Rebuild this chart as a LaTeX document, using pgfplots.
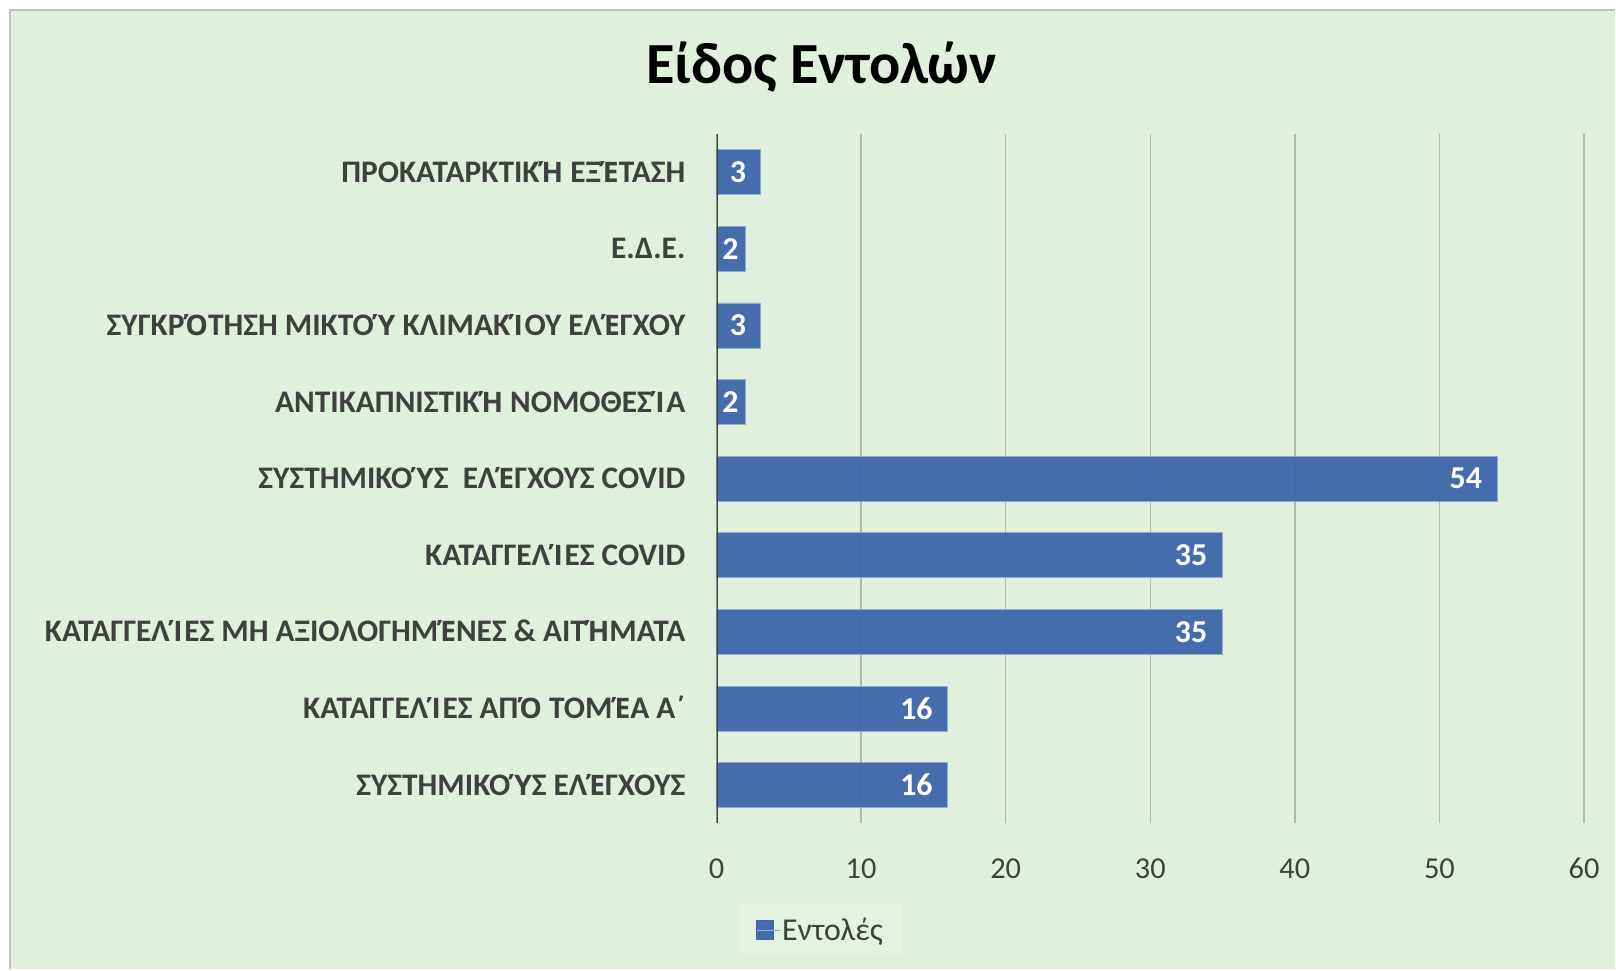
\documentclass[border=0pt]{standalone}
\usepackage{pgfplots}
\pgfplotsset{compat=1.18}
\usepackage{fontspec}
\setmainfont{Carlito}
\newfontfamily\osfont{Open Sans}[Scale=0.9]
\newcommand\T[1]{{\osfont #1}}
\definecolor{bggreen}{RGB}{224,240,220}
\definecolor{barblue}{RGB}{61,101,171}
\definecolor{txtgray}{RGB}{64,64,64}
\definecolor{gridgray}{RGB}{176,185,173}
\definecolor{leggreen}{RGB}{229,241,225}
\begin{document}
\begin{tikzpicture}
\fill[white] (0bp,0bp) rectangle (1616bp,970bp);
\fill[bggreen] (11bp,0bp) rectangle (1616bp,959bp);
\draw[black!25, line width=2bp] (10bp,0bp) -- (10bp,960bp) -- (1616bp,960bp);
\node[font=\fontsize{58.5}{64}\selectfont\bfseries, anchor=base, inner sep=0pt] at (822bp,886bp) {Είδος Εντολών};
\begin{axis}[
  at={(717bp,146bp)}, anchor=south west, scale only axis,
  width=868bp, height=690bp,
  xbar, xmin=0, xmax=60, ymin=0.5, ymax=9.5,
  bar width=45bp,
  axis lines*=left,
  axis line style={draw=none},
  xtick={0,10,...,60},
  xmajorgrids, grid style={gridgray, line width=1.3bp},
  major tick length=0pt,
  ytick={1,...,9},
  yticklabels={ΣΥΣΤΗΜΙΚΟ\T{Ύ}Σ ΕΛ\T{Έ}ΓΧΟΥΣ, ΚΑΤΑΓΓΕΛ\T{Ί}ΕΣ ΑΠ\T{Ό} ΤΟΜ\T{Έ}Α Α΄, ΚΑΤΑΓΓΕΛ\T{Ί}ΕΣ ΜΗ ΑΞΙΟΛΟΓΗΜ\T{Έ}ΝΕΣ \& ΑΙΤ\T{Ή}ΜΑΤΑ, ΚΑΤΑΓΓΕΛ\T{Ί}ΕΣ COVID, ΣΥΣΤΗΜΙΚΟ\T{Ύ}Σ\ \ ΕΛ\T{Έ}ΓΧΟΥΣ COVID, ΑΝΤΙΚΑΠΝΙΣΤΙΚ\T{Ή} ΝΟΜΟΘΕΣ\T{Ί}Α, ΣΥΓΚΡ\T{Ό}ΤΗΣΗ ΜΙΚΤΟ\T{Ύ} ΚΛΙΜΑΚ\T{Ί}ΟΥ ΕΛ\T{Έ}ΓΧΟΥ, Ε.Δ.Ε., ΠΡΟΚΑΤΑΡΚΤΙΚ\T{Ή} ΕΞ\T{Έ}ΤΑΣΗ},
  yticklabel style={font=\fontsize{31.5}{36}\selectfont\bfseries, text=txtgray, anchor=base east, inner sep=0pt, xshift=-31bp, yshift=-10bp},
  xticklabel style={font=\fontsize{30.5}{36}\selectfont, text=txtgray, anchor=center, inner sep=0pt, yshift=-45bp},
  /pgf/number format/assume math mode=true,
  legend style={at={(0.12,-0.155)}, anchor=center, fill=leggreen, draw=none, font=\fontsize{32}{36}\selectfont, text=txtgray, inner xsep=17bp, inner ysep=12bp},
  legend image code/.code={\fill[barblue] (0bp,-9.5bp) rectangle (17bp,9.5bp); \path (0bp,0bp) -- (23bp,0bp);},
]
\addplot[fill=barblue, draw=barblue!55!white, line width=0.8bp, fill opacity=0.95,
  visualization depends on={x \as \rawx},
  nodes near coords,
  every node near coord/.append style={font=\fontsize{32}{36}\selectfont\bfseries, text=white, anchor=east, inner sep=0pt, fill opacity=1, text opacity=1, xshift={\rawx<5 ? 8-7.23*\rawx : -15}}]
  coordinates {(16,1) (16,2) (35,3) (35,4) (54,5) (2,6) (3,7) (2,8) (3,9)};
\addlegendentry{Εντολές}
\addplot[sharp plot, txtgray, line width=3bp, forget plot, mark=none] coordinates {(0,0.5) (0,9.5)};
\end{axis}
\end{tikzpicture}
\end{document}
